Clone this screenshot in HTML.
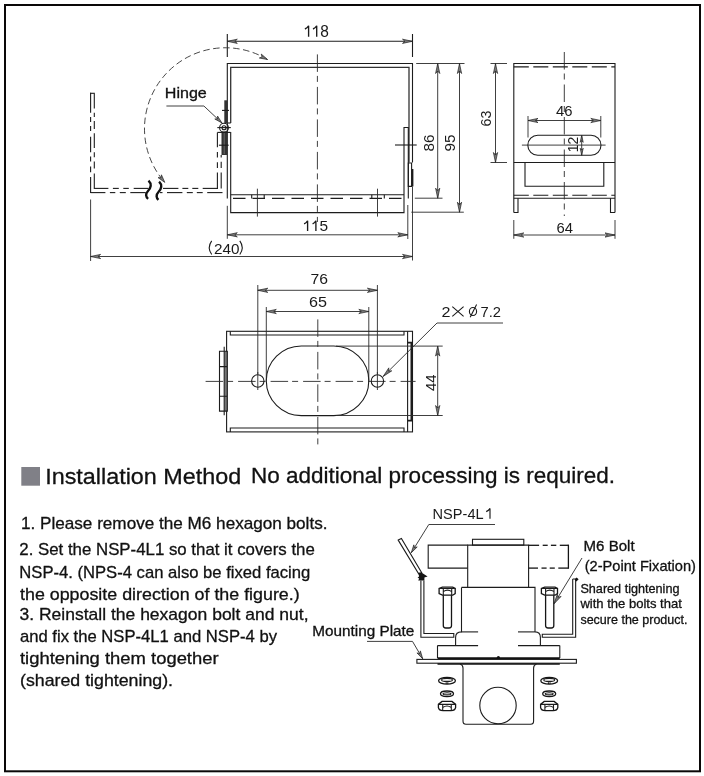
<!DOCTYPE html>
<html><head><meta charset="utf-8"><style>
html,body{margin:0;padding:0;background:#fff;}
svg{display:block;will-change:transform;}
text{font-family:"Liberation Sans",sans-serif;fill:#1a1a1a;}
text.b{fill:#111;stroke:#111;stroke-width:0.3;}
.k{fill:none;stroke:#1c1c1c;stroke-width:1.1;}
.k2{fill:none;stroke:#333;stroke-width:1.3;}
.kb{fill:none;stroke:#1c1c1c;stroke-width:1.8;}
.kb2{fill:none;stroke:#111;stroke-width:1.6;}
.d{fill:none;stroke:#2a2a2a;stroke-width:0.9;}
.ar{fill:#777;stroke:#222;stroke-width:0.7;stroke-linejoin:miter;}
.c{fill:none;stroke:#2a2a2a;stroke-width:0.9;stroke-dasharray:17.5 4 6 5;}
.c2{fill:none;stroke:#3a3a3a;stroke-width:0.8;stroke-dasharray:9 3 2 3;}
.hd{fill:none;stroke:#1c1c1c;stroke-width:1.1;stroke-dasharray:12.5 7;}
.hd2{fill:none;stroke:#1c1c1c;stroke-width:1.1;stroke-dasharray:15 4.5;}
.arc{fill:none;stroke:#333;stroke-width:0.9;stroke-dasharray:6.5 3.5;}
.k13{fill:none;stroke:#151515;stroke-width:1.3;}
.tx{fill:none;stroke:#1a1a1a;stroke-width:1.1;}
.lt{fill:none;stroke:#777;stroke-width:0.8;}
.brk{fill:none;stroke:#111;stroke-width:2.4;}
</style></head><body>
<svg width="704" height="776" viewBox="0 0 704 776">
<rect x="5" y="5" width="695" height="766.3" fill="none" stroke="#0a0808" stroke-width="2"/>
<line x1="227.3" y1="34" x2="227.3" y2="57" class="k"/>
<line x1="412.5" y1="34" x2="412.5" y2="57" class="k"/>
<line x1="227.3" y1="41.3" x2="412.5" y2="41.3" class="k"/>
<path d="M227.30,41.30 L237.30,39.20 L234.80,41.30 L237.30,43.40 Z" class="ar"/>
<path d="M412.50,41.30 L402.50,43.40 L405.00,41.30 L402.50,39.20 Z" class="ar"/>
<path d="M304.90,29.00 Q307.40,28.00 308.60,25.80 V36.70" fill="none" stroke="#1a1a1a" stroke-width="1.35"/>
<path d="M313.00,29.00 Q315.50,28.00 316.70,25.80 V36.70" fill="none" stroke="#1a1a1a" stroke-width="1.35"/>
<text x="320.2" y="36.8" font-size="15.6" text-anchor="start" textLength="8.6" lengthAdjust="spacingAndGlyphs"  class="">8</text>
<path d="M227.3,198.4 V63.5 H412.5 V162.5" class="k"/>
<path d="M230.7,123 V67.4 H409 V162.5" class="k2"/>
<path d="M227.3,123 H230.7" class="k"/>
<path d="M230.7,132 V212.6 H404 V127.5 H408.3 V198.4" class="k"/>
<path d="M408.3,163 V186.4 H411.6 V163 Z" class="k"/>
<line x1="412.5" y1="169" x2="412.5" y2="186.4" class="kb"/>
<line x1="412.5" y1="186.4" x2="412.5" y2="260.5" class="d"/>
<line x1="230.7" y1="194.8" x2="404" y2="194.8" class="k"/>
<line x1="227.3" y1="198.4" x2="408.3" y2="198.4" class="hd" stroke-dashoffset="13.80"/>
<line x1="257.4" y1="188.7" x2="257.4" y2="216.6" class="d"/>
<path d="M251.7,194.8 V198.4 M264.2,194.8 V198.4" class="k"/>
<line x1="377.5" y1="188.7" x2="377.5" y2="216.6" class="d"/>
<path d="M371.8,194.8 V198.4 M384.3,194.8 V198.4" class="k"/>
<line x1="317.4" y1="54.4" x2="317.4" y2="222" class="c"/>
<line x1="395" y1="145" x2="416.7" y2="145" class="k"/>
<rect x="224.3" y="100.3" width="3.1" height="23" fill="#333"/>
<rect x="221.5" y="132.4" width="5.6" height="22.6" fill="#333"/>
<line x1="224.2" y1="133" x2="224.2" y2="154" class="lt"/>
<line x1="222" y1="110.4" x2="229" y2="110.4" class="k"/>
<line x1="218.9" y1="145.2" x2="228.7" y2="145.2" class="k"/>
<circle cx="224" cy="127.7" r="4.4" class="k"/>
<circle cx="224" cy="127.7" r="2" class="k"/>
<line x1="217.3" y1="127.6" x2="230.8" y2="127.6" class="k"/>
<path d="M217.4,132.4 H230.5" class="k"/>
<line x1="90.6" y1="92.8" x2="90.6" y2="112.7" class="k"/>
<line x1="90.6" y1="116.9" x2="90.6" y2="121.9" class="k"/>
<line x1="90.6" y1="126" x2="90.6" y2="131" class="k"/>
<line x1="90.6" y1="136.7" x2="90.6" y2="152.3" class="k"/>
<line x1="90.6" y1="156.6" x2="90.6" y2="161.5" class="k"/>
<line x1="90.6" y1="166.5" x2="90.6" y2="172.2" class="k"/>
<line x1="90.6" y1="177" x2="90.6" y2="193.1" class="k"/>
<line x1="94.3" y1="93.5" x2="94.3" y2="108.4" class="k"/>
<line x1="94.3" y1="112.7" x2="94.3" y2="117" class="k"/>
<line x1="94.3" y1="121" x2="94.3" y2="129" class="k"/>
<line x1="94.3" y1="133.2" x2="94.3" y2="148" class="k"/>
<line x1="94.3" y1="152.3" x2="94.3" y2="157.3" class="k"/>
<line x1="94.3" y1="161.5" x2="94.3" y2="168.6" class="k"/>
<line x1="94.3" y1="173.6" x2="94.3" y2="188.9" class="k"/>
<line x1="90.1" y1="93.3" x2="94.8" y2="93.3" class="k"/>
<line x1="94.3" y1="188.4" x2="108.4" y2="188.4" class="k"/>
<line x1="112.9" y1="188.4" x2="118.8" y2="188.4" class="k"/>
<line x1="123.3" y1="188.4" x2="128.8" y2="188.4" class="k"/>
<line x1="133.7" y1="188.4" x2="148.6" y2="188.4" class="k"/>
<line x1="163" y1="188.4" x2="178.4" y2="188.4" class="k"/>
<line x1="182.4" y1="188.4" x2="188.3" y2="188.4" class="k"/>
<line x1="192.3" y1="188.4" x2="198.3" y2="188.4" class="k"/>
<line x1="202.7" y1="188.4" x2="217.9" y2="188.4" class="k"/>
<line x1="90.6" y1="192.6" x2="105.4" y2="192.6" class="k"/>
<line x1="109.9" y1="192.6" x2="115.3" y2="192.6" class="k"/>
<line x1="119.8" y1="192.6" x2="125.8" y2="192.6" class="k"/>
<line x1="130.3" y1="192.6" x2="145.7" y2="192.6" class="k"/>
<line x1="160" y1="192.6" x2="162.5" y2="192.6" class="k"/>
<line x1="167" y1="192.6" x2="182.4" y2="192.6" class="k"/>
<line x1="186.8" y1="192.6" x2="192.8" y2="192.6" class="k"/>
<line x1="196.8" y1="192.6" x2="202.7" y2="192.6" class="k"/>
<line x1="207.2" y1="192.6" x2="222.5" y2="192.6" class="k"/>
<line x1="217.4" y1="132.4" x2="217.4" y2="147.3" class="k"/>
<line x1="217.4" y1="151.9" x2="217.4" y2="157.6" class="k"/>
<line x1="217.4" y1="162.2" x2="217.4" y2="167.9" class="k"/>
<line x1="217.4" y1="172.5" x2="217.4" y2="188.9" class="k"/>
<line x1="221.2" y1="155" x2="221.2" y2="157.6" class="k"/>
<line x1="221.2" y1="161.7" x2="221.2" y2="167.9" class="k"/>
<line x1="221.2" y1="172.5" x2="221.2" y2="188.5" class="k"/>
<path d="M148.5,180.7 C152,184 151,188 148,191 C145,194 146,197 148.1,198.8" class="brk"/>
<path d="M159.1,181.7 C162.5,185 161.5,189 158.5,192 C155.5,195 156.5,198 158.4,199.8" class="brk"/>
<path d="M267.5,59.5 A81,81 0 0 0 164.8,182.4" class="arc"/>
<path d="M267.50,59.50 L259.34,58.02 L262.09,56.90 L261.24,54.05 Z" class="ar"/>
<path d="M164.80,182.40 L158.04,177.59 L161.01,177.75 L161.45,174.81 Z" class="ar"/>
<text x="164.8" y="97.8" font-size="14" text-anchor="start" textLength="42" lengthAdjust="spacingAndGlyphs"  class="b">Hinge</text>
<path d="M166.4,106 H203.9 L222,123" class="d"/>
<path d="M222.00,123.00 L214.80,118.98 L217.63,118.89 L217.54,116.07 Z" class="ar"/>
<line x1="227.3" y1="205.8" x2="227.3" y2="238.8" class="d"/>
<line x1="407.8" y1="205" x2="407.8" y2="239" class="d"/>
<line x1="227.3" y1="234.8" x2="407.8" y2="234.8" class="d"/>
<path d="M227.30,234.80 L237.30,232.70 L234.80,234.80 L237.30,236.90 Z" class="ar"/>
<path d="M407.80,234.80 L397.80,236.90 L400.30,234.80 L397.80,232.70 Z" class="ar"/>
<path d="M304.10,223.90 Q306.40,222.90 307.60,220.70 V230.90" fill="none" stroke="#1a1a1a" stroke-width="1.35"/>
<path d="M312.60,223.90 Q314.70,222.90 315.90,220.70 V230.90" fill="none" stroke="#1a1a1a" stroke-width="1.35"/>
<text x="319.4" y="231" font-size="15" text-anchor="start" textLength="8.6" lengthAdjust="spacingAndGlyphs"  class="">5</text>
<line x1="90.6" y1="199.5" x2="90.6" y2="261" class="d"/>
<line x1="90.6" y1="256.5" x2="412.5" y2="256.5" class="d"/>
<path d="M90.60,256.50 L100.60,254.40 L98.10,256.50 L100.60,258.60 Z" class="ar"/>
<path d="M412.50,256.50 L402.50,258.60 L405.00,256.50 L402.50,254.40 Z" class="ar"/>
<text x="214" y="253.75" font-size="15" text-anchor="start" textLength="25.5" lengthAdjust="spacingAndGlyphs"  class="">240</text>
<path d="M211.7,240.9 Q206.8,247.7 211.7,254.5 M239.8,240.9 Q244.7,247.7 239.8,254.5" class="tx"/>
<line x1="416.2" y1="63.5" x2="464.5" y2="63.5" class="d"/>
<line x1="414.8" y1="198.2" x2="442.5" y2="198.2" class="d"/>
<line x1="411.3" y1="212.2" x2="463.8" y2="212.2" class="d"/>
<line x1="437.7" y1="63.5" x2="437.7" y2="198.2" class="d"/>
<path d="M437.70,63.50 L439.80,73.50 L437.70,71.00 L435.60,73.50 Z" class="ar"/>
<path d="M437.70,198.20 L435.60,188.20 L437.70,190.70 L439.80,188.20 Z" class="ar"/>
<line x1="459.5" y1="63.5" x2="459.5" y2="212.2" class="d"/>
<path d="M459.50,63.50 L461.60,73.50 L459.50,71.00 L457.40,73.50 Z" class="ar"/>
<path d="M459.50,212.20 L457.40,202.20 L459.50,204.70 L461.60,202.20 Z" class="ar"/>
<text x="0" y="0" font-size="15" text-anchor="middle" textLength="17" lengthAdjust="spacingAndGlyphs" transform="translate(434.3,143) rotate(-90)">86</text>
<text x="0" y="0" font-size="15" text-anchor="middle" textLength="17" lengthAdjust="spacingAndGlyphs" transform="translate(455.1,143) rotate(-90)">95</text>
<path d="M513.8,212.5 V63.5 H615 V212.5" class="k"/>
<line x1="513.8" y1="66.9" x2="615" y2="66.9" class="hd2"/>
<line x1="513.8" y1="162.5" x2="615" y2="162.5" class="k"/>
<path d="M525,162.5 V186.3 H603.8 V162.5" class="k"/>
<line x1="513.8" y1="195.2" x2="615" y2="195.2" class="hd2"/>
<line x1="513.8" y1="198.3" x2="615" y2="198.3" class="k"/>
<path d="M518,198.3 V212.5 H513.8 M610.5,198.3 V212.5 H615" class="k"/>
<line x1="564.3" y1="52" x2="564.3" y2="216" class="c"/>
<rect x="527.8" y="135.3" width="73.2" height="20" rx="10" ry="10" class="k"/>
<line x1="521.9" y1="145.1" x2="605.6" y2="145.1" class="d"/>
<line x1="490.5" y1="63.5" x2="507" y2="63.5" class="d"/>
<line x1="490.5" y1="162.5" x2="507" y2="162.5" class="d"/>
<line x1="495.5" y1="63.5" x2="495.5" y2="162.5" class="d"/>
<path d="M495.50,63.50 L497.60,73.50 L495.50,71.00 L493.40,73.50 Z" class="ar"/>
<path d="M495.50,162.50 L493.40,152.50 L495.50,155.00 L497.60,152.50 Z" class="ar"/>
<text x="0" y="0" font-size="14.5" text-anchor="middle" textLength="16" lengthAdjust="spacingAndGlyphs" transform="translate(491.2,118.5) rotate(-90)">63</text>
<line x1="528" y1="116" x2="528" y2="137.5" class="d"/>
<line x1="600.8" y1="116" x2="600.8" y2="137.5" class="d"/>
<line x1="528" y1="120.5" x2="600.8" y2="120.5" class="d"/>
<path d="M528.00,120.50 L538.00,118.40 L535.50,120.50 L538.00,122.60 Z" class="ar"/>
<path d="M600.80,120.50 L590.80,122.60 L593.30,120.50 L590.80,118.40 Z" class="ar"/>
<text x="564.2" y="116" font-size="14.5" text-anchor="middle" textLength="16.5" lengthAdjust="spacingAndGlyphs"  class="">46</text>
<line x1="581.7" y1="135.3" x2="581.7" y2="155.3" class="d"/>
<path d="M581.70,135.30 L583.20,142.30 L581.70,140.55 L580.20,142.30 Z" class="ar"/>
<path d="M581.70,155.30 L580.20,148.30 L581.70,150.05 L583.20,148.30 Z" class="ar"/>
<text x="0" y="0" font-size="14" text-anchor="middle" textLength="15.5" lengthAdjust="spacingAndGlyphs" transform="translate(578.2,144.4) rotate(-90)">12</text>
<line x1="513.8" y1="220" x2="513.8" y2="238.8" class="d"/>
<line x1="615" y1="220" x2="615" y2="238.8" class="d"/>
<line x1="513.8" y1="235" x2="615" y2="235" class="d"/>
<path d="M513.80,235.00 L523.80,232.90 L521.30,235.00 L523.80,237.10 Z" class="ar"/>
<path d="M615.00,235.00 L605.00,237.10 L607.50,235.00 L605.00,232.90 Z" class="ar"/>
<text x="564.8" y="232.5" font-size="14.5" text-anchor="middle" textLength="16.5" lengthAdjust="spacingAndGlyphs"  class="">64</text>
<rect x="226.6" y="331.3" width="185.9" height="100.6" class="k"/>
<path d="M230.3,331.3 V335 H404 V331.3" class="k"/>
<path d="M230.3,431.9 V428 H404 V431.9" class="k"/>
<path d="M407.6,331.3 V431.9" class="k"/>
<path d="M407.6,342.7 H411.4 V420.7 H407.6" class="kb"/>
<rect x="224.4" y="351.3" width="3" height="59.8" fill="#777"/>
<path d="M219.5,351.3 V411.1 H227.3 V351.3 Z M219.5,366.6 H227.3 M219.5,396.2 H227.3" class="k"/>
<line x1="224.2" y1="346.7" x2="224.2" y2="415.3" class="k"/>
<line x1="205.6" y1="381.4" x2="415.6" y2="381.4" class="c"/>
<line x1="317.8" y1="319.4" x2="317.8" y2="444.4" class="c"/>
<rect x="266.3" y="346" width="102.5" height="69.6" rx="35" ry="34.8" class="k"/>
<circle cx="257.8" cy="381" r="6.2" class="k"/>
<line x1="257.8" y1="372" x2="257.8" y2="390" class="d"/>
<circle cx="377.4" cy="381" r="6.2" class="k"/>
<line x1="377.4" y1="372" x2="377.4" y2="390" class="d"/>
<line x1="257.8" y1="285" x2="257.8" y2="374" class="d"/>
<line x1="377.4" y1="285" x2="377.4" y2="374" class="d"/>
<line x1="257.8" y1="290.3" x2="377.4" y2="290.3" class="d"/>
<path d="M257.80,290.30 L267.80,288.20 L265.30,290.30 L267.80,292.40 Z" class="ar"/>
<path d="M377.40,290.30 L367.40,292.40 L369.90,290.30 L367.40,288.20 Z" class="ar"/>
<text x="319.3" y="284.4" font-size="14.5" text-anchor="middle" textLength="17.5" lengthAdjust="spacingAndGlyphs"  class="">76</text>
<line x1="266.3" y1="307" x2="266.3" y2="381" class="d"/>
<line x1="368.8" y1="307" x2="368.8" y2="381" class="d"/>
<line x1="266.3" y1="311.5" x2="368.8" y2="311.5" class="d"/>
<path d="M266.30,311.50 L276.30,309.40 L273.80,311.50 L276.30,313.60 Z" class="ar"/>
<path d="M368.80,311.50 L358.80,313.60 L361.30,311.50 L358.80,309.40 Z" class="ar"/>
<text x="318" y="306.9" font-size="14.5" text-anchor="middle" textLength="18" lengthAdjust="spacingAndGlyphs"  class="">65</text>
<line x1="336" y1="346.1" x2="442.7" y2="346.1" class="d"/>
<line x1="336" y1="415.5" x2="442.7" y2="415.5" class="d"/>
<line x1="437.7" y1="346.1" x2="437.7" y2="415.5" class="d"/>
<path d="M437.70,346.10 L439.80,356.10 L437.70,353.60 L435.60,356.10 Z" class="ar"/>
<path d="M437.70,415.50 L435.60,405.50 L437.70,408.00 L439.80,405.50 Z" class="ar"/>
<text x="0" y="0" font-size="15" text-anchor="middle" textLength="16.5" lengthAdjust="spacingAndGlyphs" transform="translate(435.5,382.7) rotate(-90)">44</text>
<text x="441.6" y="316.5" font-size="14.5" text-anchor="start" textLength="9" lengthAdjust="spacingAndGlyphs"  class="">2</text>
<path d="M452.3,306.6 L463.6,316.3 M463.6,306.6 L452.3,316.3" class="tx"/>
<ellipse cx="473" cy="311.5" rx="3.6" ry="4" class="tx"/>
<path d="M476.6,304.4 L470.2,317.2" class="tx"/>
<text x="480.5" y="316.5" font-size="14.5" text-anchor="start" textLength="20.5" lengthAdjust="spacingAndGlyphs"  class="">7.2</text>
<path d="M503,323 H437 L383.2,376.4" class="d"/>
<path d="M383.20,376.40 L388.82,367.86 L388.52,371.12 L391.78,370.85 Z" class="ar"/>
<rect x="21.3" y="467" width="18.7" height="18.7" fill="#808087"/>
<text x="45.2" y="483.5" font-size="22.8" text-anchor="start" textLength="196" lengthAdjust="spacingAndGlyphs"  class="b">Installation Method</text>
<text x="251" y="483" font-size="22.8" text-anchor="start" textLength="364" lengthAdjust="spacingAndGlyphs"  class="b">No additional processing is required.</text>
<text x="21" y="529" font-size="16.6" text-anchor="start" textLength="306.5" lengthAdjust="spacingAndGlyphs"  class="b">1. Please remove the M6 hexagon bolts.</text>
<text x="19.3" y="554.6" font-size="16.6" text-anchor="start" textLength="295.5" lengthAdjust="spacingAndGlyphs"  class="b">2. Set the NSP-4L1 so that it covers the</text>
<text x="19.3" y="577.6" font-size="16.6" text-anchor="start" textLength="291" lengthAdjust="spacingAndGlyphs"  class="b">NSP-4. (NPS-4 can also be fixed facing</text>
<text x="20" y="599.5" font-size="16.6" text-anchor="start" textLength="279.7" lengthAdjust="spacingAndGlyphs"  class="b">the opposite direction of the figure.)</text>
<text x="19.5" y="619.7" font-size="16.6" text-anchor="start" textLength="289" lengthAdjust="spacingAndGlyphs"  class="b">3. Reinstall the hexagon bolt and nut,</text>
<text x="20" y="641.5" font-size="16.6" text-anchor="start" textLength="257" lengthAdjust="spacingAndGlyphs"  class="b">and fix the NSP-4L1 and NSP-4 by</text>
<text x="20" y="663.7" font-size="16.6" text-anchor="start" textLength="198.6" lengthAdjust="spacingAndGlyphs"  class="b">tightening them together</text>
<text x="20" y="685.9" font-size="16.6" text-anchor="start" textLength="153" lengthAdjust="spacingAndGlyphs"  class="b">(shared tightening).</text>
<text x="432.6" y="518.8" font-size="14.5" text-anchor="start" textLength="51" lengthAdjust="spacingAndGlyphs"  class="">NSP-4L</text>
<path d="M486.20,511.60 Q488.80,510.60 490.00,508.40 V518.80" fill="none" stroke="#1a1a1a" stroke-width="1.15"/>
<path d="M495,524.5 H428.8 L411.3,552.7" class="d"/>
<path d="M411.30,552.70 L413.82,544.85 L414.46,547.60 L417.22,546.96 Z" class="ar"/>
<path d="M398.2,540.1 L401.4,538.5 L421.7,572.7 L418.8,574 Z" class="k"/>
<path d="M418.6,572.4 L421.8,572.8 L427.6,576.6 L424.4,577.6 L424.4,580.6 L418.2,580.6 L419.2,578.6 L417.6,577.8 L419,576.4 Z" fill="#151515"/>
<path d="M420.9,580.5 V637.3 H453.8 V633.5 H423.9 V580.5" class="k"/>
<path d="M572.7,579 V634.3 H542.3 V637.2 H575.65 V579 H572.7" class="k"/>
<path d="M574.6,579.6 L576.6,577.4 L578.6,579.2 L576.4,581.4 Z" fill="#111"/>
<rect x="472.5" y="539.3" width="51.3" height="5.8" class="k"/>
<path d="M467.7,587.4 V545.1 H528.6 V587.4" class="k"/>
<path d="M467.7,545.1 H428.2 V568.1 H467.7" class="k"/>
<line x1="528.6" y1="545.3" x2="539.1" y2="545.3" class="k13"/>
<line x1="542.7" y1="545.3" x2="547.7" y2="545.3" class="k13"/>
<line x1="550.9" y1="545.3" x2="556.3" y2="545.3" class="k13"/>
<line x1="559.8" y1="545.3" x2="568.4" y2="545.3" class="k13"/>
<line x1="528.6" y1="568.1" x2="538" y2="568.1" class="k13"/>
<line x1="541.5" y1="568.1" x2="546.6" y2="568.1" class="k13"/>
<line x1="549.7" y1="568.1" x2="554.8" y2="568.1" class="k13"/>
<line x1="558.3" y1="568.1" x2="568.4" y2="568.1" class="k13"/>
<line x1="568.4" y1="544.65" x2="568.4" y2="568.75" class="k13"/>
<path d="M461.5,587.4 H535 V631.9 M535,631.9 Q540.4,631.9 540.4,637.5 V645.6" class="k"/>
<path d="M461.5,587.4 V631.9 Q455.6,631.9 455.6,637.5 V645.6" class="k"/>
<line x1="461.5" y1="631.9" x2="478.1" y2="631.9" class="k"/>
<line x1="518" y1="631.9" x2="535" y2="631.9" class="k"/>
<line x1="437.5" y1="645.6" x2="478.1" y2="645.6" class="k"/>
<line x1="518" y1="645.6" x2="559.8" y2="645.6" class="k"/>
<path d="M437.5,645.6 V658 M559.8,645.6 V658" class="k"/>
<line x1="437.5" y1="658.1" x2="559.8" y2="658.1" class="kb2"/>
<rect x="416.9" y="659.4" width="159.5" height="3.8" class="k"/>
<line x1="437.5" y1="664" x2="559.8" y2="664" class="kb2"/>
<circle cx="498.4" cy="657.5" r="1.6" fill="#111"/>
<path d="M442.40,587.1 H452.70 L455.20,588.5 V593.6 L452.70,595.2 H442.40 L439.10,593.6 V588.5 Z" class="k13"/>
<path d="M439.10,588.5 H455.20 M443.30,588.5 V595.2 M451.70,588.5 V595.2 M443.30,591.6 Q447.50,588.6 451.70,591.6" class="k"/>
<path d="M443.30,595.2 V625.5 Q443.30,628 445.80,628 H449.00 Q451.50,628 451.50,625.5 V595.2" class="k13"/>
<path d="M544.70,587.1 H555.00 L557.50,588.5 V593.6 L555.00,595.2 H544.70 L541.40,593.6 V588.5 Z" class="k13"/>
<path d="M541.40,588.5 H557.50 M545.60,588.5 V595.2 M554.00,588.5 V595.2 M545.60,591.6 Q549.80,588.6 554.00,591.6" class="k"/>
<path d="M545.60,595.2 V625.5 Q545.60,628 548.10,628 H551.30 Q553.80,628 553.80,625.5 V595.2" class="k13"/>
<path d="M460,664 Q463,665 463,668 V721 Q463,724.3 466,724.3 H530.6 Q533.6,724.3 533.6,721 V668 Q533.6,665 536.5,664" class="k"/>
<circle cx="498" cy="705.5" r="18.2" class="k"/>
<ellipse cx="447" cy="680.7" rx="8.4" ry="3.4" class="k13"/>
<ellipse cx="447" cy="679.9" rx="5.4" ry="1.5" class="k"/>
<line x1="446.2" y1="682.2" x2="446.2" y2="684" class="k"/>
<line x1="447.8" y1="682.2" x2="447.8" y2="684" class="k"/>
<ellipse cx="447" cy="693.8" rx="6.5" ry="2.8" class="k13"/>
<ellipse cx="447" cy="693.8" rx="4" ry="1.1" class="k"/>
<path d="M442,701.4 H452 L455.6,704.4 V707.6 Q455,710.6 451,710.6 H443 Q439,710.6 438.4,707.6 V704.4 Z" class="k13"/>
<path d="M438.4,704.4 H455.6 M442.7,704.4 V710.4 M451.3,704.4 V710.4 M442.7,707.5 Q447,704.6 451.3,707.5" class="k"/>
<ellipse cx="549.2" cy="680.7" rx="8.4" ry="3.4" class="k13"/>
<ellipse cx="549.2" cy="679.9" rx="5.4" ry="1.5" class="k"/>
<line x1="548.4000000000001" y1="682.2" x2="548.4000000000001" y2="684" class="k"/>
<line x1="550.0" y1="682.2" x2="550.0" y2="684" class="k"/>
<ellipse cx="549.2" cy="693.8" rx="6.5" ry="2.8" class="k13"/>
<ellipse cx="549.2" cy="693.8" rx="4" ry="1.1" class="k"/>
<path d="M544.2,701.4 H554.2 L557.8000000000001,704.4 V707.6 Q557.2,710.6 553.2,710.6 H545.2 Q541.2,710.6 540.6,707.6 V704.4 Z" class="k13"/>
<path d="M540.6,704.4 H557.8000000000001 M544.9000000000001,704.4 V710.4 M553.5,704.4 V710.4 M544.9000000000001,707.5 Q549.2,704.6 553.5,707.5" class="k"/>
<text x="583.6" y="551.3" font-size="14" text-anchor="start" textLength="51" lengthAdjust="spacingAndGlyphs"  class="b">M6 Bolt</text>
<text x="584.7" y="570.6" font-size="15" text-anchor="start" textLength="111.3" lengthAdjust="spacingAndGlyphs"  class="b">(2-Point Fixation)</text>
<path d="M582,558 L554,603.8" class="d"/>
<path d="M554.00,603.80 L557.34,594.12 L557.91,597.40 L561.09,596.42 Z" class="ar"/>
<text x="580.4" y="593.3" font-size="13" text-anchor="start" textLength="99.1" lengthAdjust="spacingAndGlyphs"  class="b">Shared tightening</text>
<text x="580.4" y="608" font-size="13" text-anchor="start" textLength="101.4" lengthAdjust="spacingAndGlyphs"  class="b">with the bolts that</text>
<text x="580.4" y="623.7" font-size="13" text-anchor="start" textLength="107.1" lengthAdjust="spacingAndGlyphs"  class="b">secure the product.</text>
<text x="312.3" y="635.8" font-size="14.5" text-anchor="start" textLength="102" lengthAdjust="spacingAndGlyphs"  class="b">Mounting Plate</text>
<path d="M367,641.4 H412.5 L422.7,658.8" class="d"/>
<path d="M422.70,658.80 L416.93,652.91 L419.67,653.62 L420.38,650.89 Z" class="ar"/>
</svg>
</body></html>
